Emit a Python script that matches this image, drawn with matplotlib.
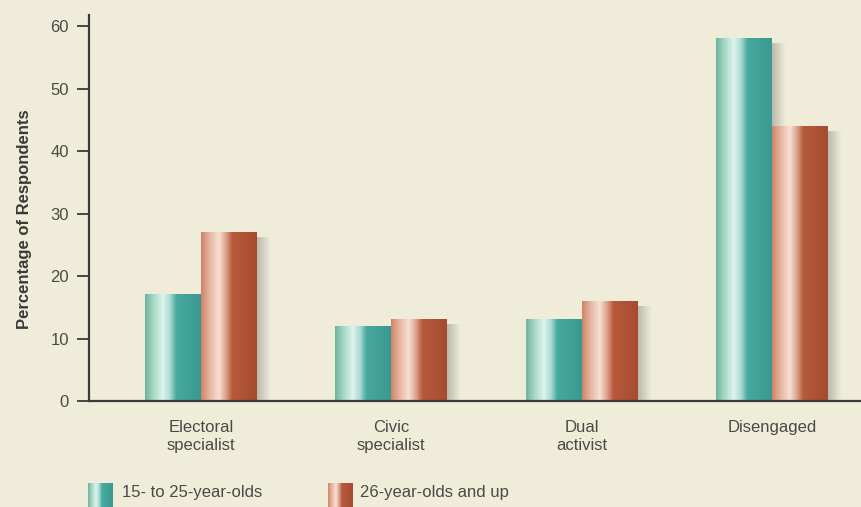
import numpy as np
import matplotlib
matplotlib.use("Agg")
import matplotlib.pyplot as plt
from matplotlib.colors import LinearSegmentedColormap

# ---- data ----
categories = ["Electoral\nspecialist", "Civic\nspecialist", "Dual\nactivist", "Disengaged"]
young = [17, 12, 13, 58]
older = [27, 13, 16, 44]
series_labels = ["15- to 25-year-olds", "26-year-olds and up"]
yticks = [0, 10, 20, 30, 40, 50, 60]

BG = "#efedda"
TXT = "#4a4a44"
FS = 12

teal_cmap = LinearSegmentedColormap.from_list("teal", [
    (0.0, "#6db39a"), (0.15, "#a6d8c4"), (0.32, "#def3ef"), (0.45, "#a9d9d1"),
    (0.56, "#47aa9e"), (1.0, "#3a9890")])
brown_cmap = LinearSegmentedColormap.from_list("brown", [
    (0.0, "#cf8467"), (0.15, "#e6b4a0"), (0.32, "#f7e0d4"), (0.45, "#dca08a"),
    (0.56, "#b75a3c"), (1.0, "#a64b30")])

plt.rcParams['font.family'] = ['Liberation Sans Narrow', 'Liberation Sans', 'DejaVu Sans']

fig = plt.figure(figsize=(8.62, 5.07), dpi=100)
fig.patch.set_facecolor(BG)
ax = fig.add_axes([89/862, 106/507, 1 - 89/862, (401-15)/507])
ax.set_facecolor(BG)

x = np.arange(len(categories))
w = 0.294
grad = np.linspace(0, 1, 256).reshape(1, -1)

def gradient_bars(xpos, vals, cmap):
    bars = ax.bar(xpos, vals, w, color="none", edgecolor="none", zorder=2)
    for r in bars:
        x0, y0, bw, bh = r.get_x(), r.get_y(), r.get_width(), r.get_height()
        # soft shadow on the right
        sh = np.linspace(0.22, 0, 64).reshape(1, -1)
        ax.imshow(np.dstack([np.zeros((1, 64, 3)), sh[..., None]]),
                  extent=[x0 + bw, x0 + bw + 0.07, y0, y0 + bh - 0.8],
                  aspect="auto", zorder=1.5, interpolation="bilinear")
        ax.imshow(grad, extent=[x0, x0 + bw, y0, y0 + bh], cmap=cmap,
                  aspect="auto", zorder=2, interpolation="bilinear")
    return bars

gradient_bars(x - w/2, young, teal_cmap)
gradient_bars(x + w/2, older, brown_cmap)

ax.set_xlim(-0.589, 3.473)
ax.set_ylim(0, 61.8)
ax.set_yticks(yticks)
ax.set_yticklabels([str(t) for t in yticks], fontsize=FS, color=TXT)
ax.set_xticks(x)
ax.set_xticklabels(categories, fontsize=FS, color=TXT, linespacing=1.25)
ax.tick_params(axis="y", length=9, width=1.3, color="#3a3a36", pad=5.5)
ax.tick_params(axis="x", length=0, pad=14)
for s in ["top", "right"]:
    ax.spines[s].set_visible(False)
for s in ["left", "bottom"]:
    ax.spines[s].set_color("#3a3a36")
    ax.spines[s].set_linewidth(1.6)
ax.set_ylabel("Percentage of Respondents", fontsize=FS, fontweight="bold",
              color="#3a3a36")
ax.yaxis.label.set_va("center")
ax.yaxis.set_label_coords(-0.083, 0.47)

# legend swatches
for i, (cmap, lab) in enumerate(zip([teal_cmap, brown_cmap], series_labels)):
    left, sw, tx = [(88, 25, 122), (328, 25, 360)][i]
    sax = fig.add_axes([left/862, 0, sw/862, 24/507])
    sax.imshow(grad, cmap=cmap, aspect="auto", interpolation="bilinear")
    sax.axis("off")
    fig.text(tx/862, (507-493)/507, lab, fontsize=FS, color=TXT,
             va="center", ha="left")

fig.savefig("out.png", dpi=100, facecolor=BG)
